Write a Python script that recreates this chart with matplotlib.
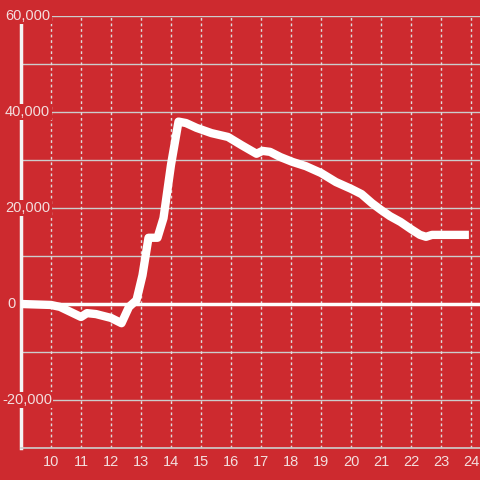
import matplotlib
matplotlib.use("Agg")
import matplotlib.pyplot as plt
import matplotlib.transforms as mtransforms

# Data (hour of day, value)
hours = [9.0, 10.0, 10.3, 11.0, 11.2, 11.5, 12.0, 12.35, 12.6, 12.85, 13.05,
         13.25, 13.55, 13.75, 14.0, 14.25, 14.5, 14.85, 15.35, 15.9, 16.35,
         16.85, 17.05, 17.3, 17.65, 18.05, 18.5, 19.0, 19.5, 20.0, 20.35,
         20.7, 21.0, 21.3, 21.65, 22.0, 22.3, 22.5, 22.7, 23.93]
values = [0, -200, -600, -2700, -1900, -2100, -2900, -4000, -600, 800, 6000,
          13800, 13800, 17900, 29000, 38000, 37700, 36700, 35600, 34800, 33100,
          31300, 31900, 31700, 30600, 29600, 28700, 27300, 25400, 24000, 22900,
          21000, 19600, 18300, 17100, 15600, 14400, 14000, 14400, 14400]

x_ticks = list(range(10, 25))
y_ticks = [-20000, 0, 20000, 40000, 60000]
y_tick_labels = ["-20,000", "0", "20,000", "40,000", "60,000"]
y_grid = [-30000, -20000, -10000, 10000, 20000, 30000, 40000, 50000, 60000]

BG = "#cd2a2f"
TXT = "#f3dede"

plt.rcParams['font.family'] = ['Liberation Sans', 'DejaVu Sans']

fig = plt.figure(figsize=(4.8, 4.8), dpi=100, facecolor=BG)
ax = fig.add_axes([21/480, 32/480, 1 - 21/480, 432/480])
ax.set_facecolor(BG)
ax.set_xlim(9.0, 9.0 + 459/30)
ax.set_ylim(-30000, 60000)

for s in ['top', 'right']:
    ax.spines[s].set_visible(False)
ax.spines['bottom'].set_color('#cccccc')
ax.spines['bottom'].set_linewidth(1.2)
ax.spines['left'].set_color('#f4f4f4')
ax.spines['left'].set_linewidth(2.5)

# gridlines
for g in y_grid:
    ax.axhline(g, color='#cccccc', lw=1, zorder=1)
for xt in x_ticks:
    ax.axvline(xt, color='#dddddd', lw=1, ls=(0, (2, 2)), zorder=1)
ax.axhline(0, color='white', lw=2.5, zorder=2)

ax.plot(hours, values, color='white', lw=6, solid_joinstyle='round',
        solid_capstyle='butt', zorder=3)

ax.set_xticks(x_ticks)
ax.set_xticklabels([str(t) for t in x_ticks])
ax.tick_params(axis='x', length=0, pad=5, labelsize=10.5, colors=TXT)
ax.set_yticks([])

trans = mtransforms.blended_transform_factory(fig.transFigure, ax.transData)
for v, lab in zip(y_ticks, y_tick_labels):
    xpos = 2/480 if lab.startswith('-') else 5/480
    if lab == "0":
        xpos = 7/480
    ax.text(xpos, v, lab, transform=trans, ha='left', va='center',
            fontsize=10.5, color=TXT, zorder=10, clip_on=False,
            bbox=dict(facecolor=BG, edgecolor='none', pad=1.0))

fig.savefig("out.png", dpi=100, facecolor=BG)
